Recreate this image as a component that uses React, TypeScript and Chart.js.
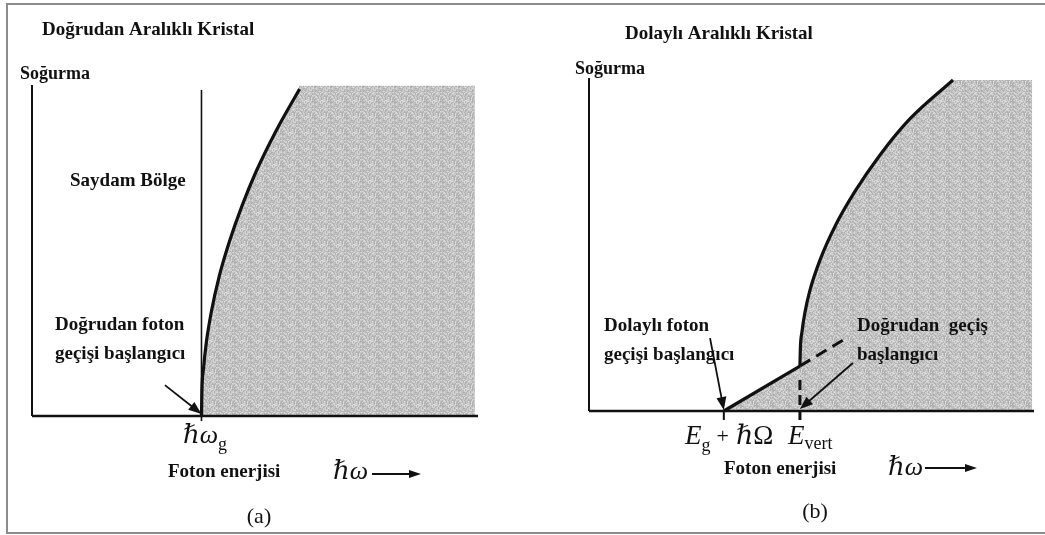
import { useEffect, useRef } from "react";
import { Chart, registerables } from "chart.js";

Chart.register(...registerables);

// ---------- Panel (a): direct-gap crystal (arbitrary energy / absorption units) ----------
const directGap = 3.8; // ħω_g
const directGapLineTop = 9.82;
const directEdgeX = [3.8, 3.81, 3.845, 3.91, 4.02, 4.2, 4.43, 4.7, 5.03, 5.48, 6.0];
const directEdgeY = [0, 0.78, 1.42, 2.23, 3.13, 4.22, 5.27, 6.3, 7.38, 8.61, 9.85];
// shaded plateau beyond the edge (starts on the edge so the fills overlap)
const directPlateauX = [5.48, 6.0, 9.93];
const directPlateauY = [8.61, 9.95, 9.95];
const directAxisTop = 9.97;
const directPointerX = [2.98, 3.8];
const directPointerY = [0.93, 0.06];

// ---------- Panel (b): indirect-gap crystal ----------
const indirectOnset = 3.03; // E_g + ħΩ
const verticalOnset = 4.74; // E_vert
const phononEdgeX = [3.03, 4.74];
const phononEdgeY = [0, 1.35];
const phononShadeX = [3.03, 4.74, 4.785];
const phononShadeY = [0, 1.35, 2.37];
const verticalEdgeX = [4.74, 4.75, 4.785, 4.85, 4.96, 5.19, 5.53, 5.98, 6.54, 7.21, 8.18];
const verticalEdgeY = [1.35, 1.89, 2.37, 2.94, 3.6, 4.53, 5.55, 6.6, 7.69, 8.77, 9.94];
const phononExtX = [4.74, 5.82];
const phononExtY = [1.35, 2.22];
const indirectPlateauX = [7.21, 8.18, 9.96];
const indirectPlateauY = [8.77, 9.94, 9.94];
const verticalDashTop = 0.99;
const tickDepth = -0.27;
const indirectPointerX = [2.72, 3.03];
const indirectPointerY = [2.19, 0.03];
const verticalPointerX = [5.93, 4.74];
const verticalPointerY = [1.44, 0.06];

const INK = "#111111";
const SERIF = '"Liberation Serif", "DejaVu Serif", serif';
const BOLD = (px: number) => `bold ${px}px ${SERIF}`;
const ITAL = (px: number) => `italic ${px}px ${SERIF}`;
const ROMAN = (px: number) => `${px}px ${SERIF}`;

type Part = { t: string; font: string; dy?: number; gap?: number };
type Label = { x: number; y: number; parts: Part[]; align?: "left" | "center" };
type Arrow = { xs: number[]; ys: number[] };
type PixelArrow = { x1: number; x2: number; y: number };

const pts = (xs: number[], ys: number[]) => xs.map((x, i) => ({ x, y: ys[i] }));

// Stippled grey fill for the absorbing region
function makeShade(): CanvasPattern | string {
  const size = 16;
  const c = document.createElement("canvas");
  c.width = size;
  c.height = size;
  const g = c.getContext("2d");
  if (!g) return "#c6c6c6";
  for (let yy = 0; yy < size; yy++) {
    for (let xx = 0; xx < size; xx++) {
      let h = (xx * 374761393 + yy * 668265263) >>> 0;
      h = ((h ^ (h >>> 13)) * 1274126177) >>> 0;
      const v = 172 + (h % 56);
      g.fillStyle = `rgb(${v},${v},${v})`;
      g.fillRect(xx, yy, 1, 1);
    }
  }
  return g.createPattern(c, "repeat") || "#c6c6c6";
}

function line(data: { x: number; y: number }[], width: number, extra: Record<string, unknown> = {}) {
  return {
    data,
    borderColor: INK,
    borderWidth: width,
    pointRadius: 0,
    fill: false,
    clip: false,
    tension: 0,
    order: 1,
    borderCapStyle: "butt",
    ...extra,
  };
}

function shadeArea(data: { x: number; y: number }[], shade: CanvasPattern | string) {
  return line(data, 0, { fill: "origin", backgroundColor: shade, borderColor: "rgba(0,0,0,0)", order: 5 });
}

function drawArrowHead(ctx: CanvasRenderingContext2D, x1: number, y1: number, x2: number, y2: number, len = 12, half = 4.5) {
  const a = Math.atan2(y2 - y1, x2 - x1);
  ctx.beginPath();
  ctx.moveTo(x2, y2);
  ctx.lineTo(x2 - len * Math.cos(a) + half * Math.sin(a), y2 - len * Math.sin(a) - half * Math.cos(a));
  ctx.lineTo(x2 - len * Math.cos(a) - half * Math.sin(a), y2 - len * Math.sin(a) + half * Math.cos(a));
  ctx.closePath();
  ctx.fill();
}

function decorPlugin(labels: Label[], pointers: Arrow[], axisArrow: PixelArrow) {
  return {
    id: "decor",
    afterDraw(chart: Chart) {
      const ctx = chart.ctx;
      const sx = chart.scales.x;
      const sy = chart.scales.y;
      ctx.save();
      ctx.fillStyle = INK;
      ctx.strokeStyle = INK;
      // pointer arrows, placed in data units
      ctx.lineWidth = 1.8;
      for (const p of pointers) {
        const x1 = sx.getPixelForValue(p.xs[0]);
        const y1 = sy.getPixelForValue(p.ys[0]);
        const x2 = sx.getPixelForValue(p.xs[1]);
        const y2 = sy.getPixelForValue(p.ys[1]);
        const a = Math.atan2(y2 - y1, x2 - x1);
        ctx.beginPath();
        ctx.moveTo(x1, y1);
        ctx.lineTo(x2 - 8 * Math.cos(a), y2 - 8 * Math.sin(a));
        ctx.stroke();
        drawArrowHead(ctx, x1, y1, x2, y2, 13, 5);
      }
      // "ħω ⟶" direction arrow
      ctx.lineWidth = 2;
      ctx.beginPath();
      ctx.moveTo(axisArrow.x1, axisArrow.y);
      ctx.lineTo(axisArrow.x2 - 8, axisArrow.y);
      ctx.stroke();
      drawArrowHead(ctx, axisArrow.x1, axisArrow.y, axisArrow.x2, axisArrow.y, 12, 4);
      // labels
      ctx.textBaseline = "middle";
      ctx.textAlign = "left";
      for (const l of labels) {
        let x = l.x;
        if (l.align === "center") {
          let w = 0;
          for (const p of l.parts) {
            ctx.font = p.font;
            w += ctx.measureText(p.t).width + (p.gap ?? 0);
          }
          x -= w / 2;
        }
        for (const p of l.parts) {
          ctx.font = p.font;
          ctx.fillText(p.t, x, l.y + (p.dy ?? 0));
          x += ctx.measureText(p.t).width + (p.gap ?? 0);
        }
      }
      ctx.restore();
    },
  };
}

function baseOptions(padding: { left: number; right: number; top: number; bottom: number }) {
  return {
    responsive: false,
    maintainAspectRatio: false,
    animation: false as const,
    devicePixelRatio: 1,
    events: [],
    layout: { padding },
    plugins: { legend: { display: false }, tooltip: { enabled: false } },
    scales: {
      x: { type: "linear" as const, min: 0, max: 10, display: false },
      y: { type: "linear" as const, min: 0, max: 10, display: false },
    },
  };
}

function configA(shade: CanvasPattern | string) {
  const labels: Label[] = [
    { x: 42, y: 30, parts: [{ t: "Doğrudan Aralıklı Kristal", font: BOLD(19) }] },
    { x: 20, y: 74, parts: [{ t: "Soğurma", font: BOLD(18) }] },
    { x: 70, y: 181, parts: [{ t: "Saydam Bölge", font: BOLD(19) }] },
    { x: 55, y: 325, parts: [{ t: "Doğrudan foton", font: BOLD(19) }] },
    { x: 55, y: 354, parts: [{ t: "geçişi başlangıcı", font: BOLD(19) }] },
    {
      x: 183,
      y: 436,
      parts: [
        { t: "ℏω", font: ITAL(26) },
        { t: "g", font: ROMAN(18), dy: 9 },
      ],
    },
    { x: 168, y: 472, parts: [{ t: "Foton enerjisi", font: BOLD(19) }] },
    { x: 333, y: 472, parts: [{ t: "ℏω", font: ITAL(26) }] },
    { x: 259, y: 517, align: "center", parts: [{ t: "(a)", font: ROMAN(22) }] },
  ];
  return {
    type: "line" as const,
    data: {
      datasets: [
        line(pts([0, 10], [0, 0]), 2.5, { order: 0 }),
        line(pts([0, 0], [0, directAxisTop]), 2, { order: 0 }),
        line(pts([directGap, directGap], [-0.15, directGapLineTop]), 1.6, { order: 0 }),
        line(pts(directEdgeX, directEdgeY), 3.2, {
          fill: "origin",
          backgroundColor: shade,
          cubicInterpolationMode: "monotone",
        }),
        shadeArea(pts(directPlateauX, directPlateauY), shade),
      ],
    },
    options: baseOptions({ left: 32, right: 44, top: 84, bottom: 119 }),
    plugins: [
      decorPlugin(labels, [{ xs: directPointerX, ys: directPointerY }], { x1: 372, x2: 421, y: 474 }),
    ],
  };
}

function configB(shade: CanvasPattern | string) {
  const labels: Label[] = [
    { x: 103, y: 34, parts: [{ t: "Dolaylı Aralıklı Kristal", font: BOLD(19) }] },
    { x: 53, y: 69, parts: [{ t: "Soğurma", font: BOLD(18) }] },
    { x: 82, y: 326, parts: [{ t: "Dolaylı foton", font: BOLD(19) }] },
    { x: 82, y: 355, parts: [{ t: "geçişi başlangıcı", font: BOLD(19) }] },
    { x: 335, y: 326, parts: [{ t: "Doğrudan  geçiş", font: BOLD(19) }] },
    { x: 335, y: 355, parts: [{ t: "başlangıcı", font: BOLD(19) }] },
    {
      x: 163,
      y: 437,
      parts: [
        { t: "E", font: ITAL(27) },
        { t: "g", font: ROMAN(18), dy: 9, gap: 6 },
        { t: "+", font: ROMAN(22), gap: 7 },
        { t: "ℏ", font: ITAL(27) },
        { t: "Ω", font: ROMAN(27) },
      ],
    },
    {
      x: 266,
      y: 437,
      parts: [
        { t: "E", font: ITAL(27) },
        { t: "vert", font: ROMAN(18), dy: 7 },
      ],
    },
    { x: 202, y: 469, parts: [{ t: "Foton enerjisi", font: BOLD(19) }] },
    { x: 366, y: 468, parts: [{ t: "ℏω", font: ITAL(26) }] },
    { x: 293, y: 512, align: "center", parts: [{ t: "(b)", font: ROMAN(22) }] },
  ];
  return {
    type: "line" as const,
    data: {
      datasets: [
        line(pts([0, 10], [0, 0]), 2.5, { order: 0 }),
        line(pts([0, 0], [0, 10]), 2, { order: 0 }),
        line(pts([indirectOnset, indirectOnset], [tickDepth, 0]), 2, { order: 0 }),
        line(pts([verticalOnset, verticalOnset], [tickDepth, verticalDashTop]), 3, {
          order: 0,
          borderDash: [10, 5],
        }),
        line(pts(phononExtX, phononExtY), 3, { order: 0, borderDash: [12, 7] }),
        line(pts(phononEdgeX, phononEdgeY), 3.2),
        line(pts(verticalEdgeX, verticalEdgeY), 3.2, {
          fill: "origin",
          backgroundColor: shade,
          cubicInterpolationMode: "monotone",
        }),
        shadeArea(pts(phononShadeX, phononShadeY), shade),
        shadeArea(pts(indirectPlateauX, indirectPlateauY), shade),
      ],
    },
    options: baseOptions({ left: 67, right: 11, top: 78, bottom: 124 }),
    plugins: [
      decorPlugin(
        labels,
        [
          { xs: indirectPointerX, ys: indirectPointerY },
          { xs: verticalPointerX, ys: verticalPointerY },
        ],
        { x1: 403, x2: 455, y: 468 }
      ),
    ],
  };
}

export default function App() {
  const refA = useRef<HTMLCanvasElement>(null);
  const refB = useRef<HTMLCanvasElement>(null);

  useEffect(() => {
    if (!refA.current || !refB.current) return;
    const shade = makeShade();
    const a = new Chart(refA.current, configA(shade) as any);
    const b = new Chart(refB.current, configB(shade) as any);
    return () => {
      a.destroy();
      b.destroy();
    };
  }, []);

  return (
    <div style={{ position: "absolute", left: 0, top: 0, width: 1045, height: 535, background: "#ffffff" }}>
      <div
        style={{
          position: "absolute",
          left: 6,
          top: 3,
          width: 1037,
          height: 527,
          borderLeft: "2px solid #8c8c8c",
          borderTop: "2px solid #8c8c8c",
          borderBottom: "2px solid #8c8c8c",
        }}
      />
      <canvas ref={refA} width={522} height={535} style={{ position: "absolute", left: 0, top: 0 }} />
      <canvas ref={refB} width={523} height={535} style={{ position: "absolute", left: 522, top: 0 }} />
    </div>
  );
}
